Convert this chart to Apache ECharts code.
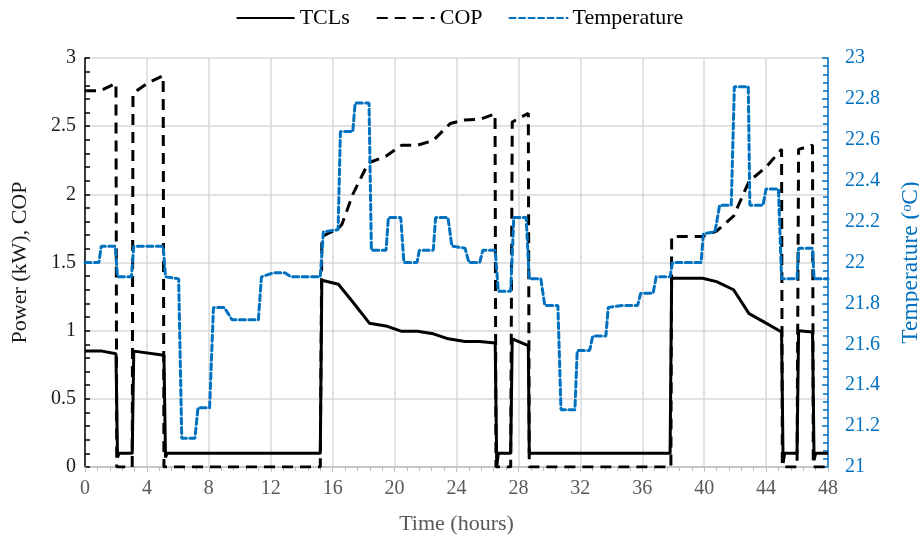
<!DOCTYPE html>
<html>
<head>
<meta charset="utf-8">
<script src="https://cdn.jsdelivr.net/npm/echarts@6/dist/echarts.min.js"></script>
<style>
html,body{margin:0;padding:0;background:#fff;}
#chart{width:919px;height:543px;}
</style>
</head>
<body>
<div id="chart"></div>
<script>
// ---- data ----
const seriesNames = ['TCLs', 'COP', 'Temperature'];

const tclsHours  = [0, 1.1, 2.0, 2.1, 2.2, 3.05, 3.15, 5.1, 5.2, 5.3, 15.2, 15.3, 16.37, 17.3, 18.37, 19.44, 20.46, 21.47, 22.5, 23.47, 24.55, 25.5, 26.5, 26.6, 26.7, 27.5, 27.6, 28.64, 28.7, 37.8, 37.9, 39.9, 40.8, 41.9, 42.9, 44.0, 45.0, 45.1, 45.2, 46.0, 46.1, 47.0, 47.1, 47.2, 48];
const tclsValues = [0.85, 0.85, 0.83, 0.07, 0.1, 0.1, 0.85, 0.82, 0.07, 0.1, 0.1, 1.37, 1.34, 1.21, 1.055, 1.035, 0.995, 0.995, 0.977, 0.94, 0.92, 0.92, 0.91, 0.0, 0.1, 0.1, 0.94, 0.89, 0.1, 0.1, 1.385, 1.385, 1.36, 1.30, 1.125, 1.055, 0.99, 0.03, 0.1, 0.1, 1.0, 0.99, 0.05, 0.1, 0.1];

const copHours  = [0, 1.0, 2.0, 2.05, 3.05, 3.1, 4.1, 5.05, 5.1, 15.2, 15.3, 16.37, 16.6, 17.3, 18.3, 19.44, 20.46, 21.47, 22.5, 23.6, 24.55, 25.5, 26.49, 26.55, 27.5, 27.6, 28.64, 28.7, 37.85, 37.9, 39.9, 40.8, 41.9, 42.9, 44.0, 45.0, 45.05, 46.0, 46.1, 47.0, 47.05, 48];
const copValues = [2.76, 2.76, 2.815, 0, 0, 2.74, 2.82, 2.87, 0, 0, 1.69, 1.75, 1.78, 2.0, 2.23, 2.28, 2.36, 2.36, 2.395, 2.52, 2.545, 2.55, 2.59, 0, 0, 2.53, 2.595, 0, 0, 1.69, 1.69, 1.73, 1.84, 2.095, 2.2, 2.33, 0, 0, 2.33, 2.36, 0, 0];

const tempHours  = [0, 0.9, 1.05, 1.95, 2.1, 3.0, 3.15, 5.05, 5.2, 6.05, 6.25, 7.1, 7.3, 8.05, 8.3, 9.0, 9.5, 11.2, 11.4, 12.2, 12.9, 13.3, 15.2, 15.4, 16.35, 16.5, 17.3, 17.45, 18.35, 18.5, 19.45, 19.6, 20.4, 20.6, 21.45, 21.6, 22.5, 22.65, 23.45, 23.7, 24.55, 24.8, 25.5, 25.7, 26.5, 26.7, 27.5, 27.7, 28.5, 28.7, 29.45, 29.7, 30.55, 30.75, 31.65, 31.8, 32.6, 32.8, 33.65, 33.8, 34.7, 35.7, 35.9, 36.7, 36.9, 37.8, 37.95, 39.8, 39.95, 40.7, 41.0, 41.75, 41.95, 42.85, 42.95, 43.8, 44.0, 44.8, 45.0, 46.0, 46.1, 47.0, 47.1, 48];
const tempValues = [22.0, 22.0, 22.08, 22.08, 21.93, 21.93, 22.08, 22.08, 21.93, 21.92, 21.14, 21.14, 21.29, 21.29, 21.78, 21.78, 21.72, 21.72, 21.93, 21.95, 21.95, 21.93, 21.93, 22.15, 22.16, 22.64, 22.64, 22.78, 22.78, 22.06, 22.06, 22.22, 22.22, 22.0, 22.0, 22.06, 22.06, 22.22, 22.22, 22.08, 22.07, 22.0, 22.0, 22.06, 22.06, 21.86, 21.86, 22.22, 22.22, 21.92, 21.92, 21.79, 21.79, 21.28, 21.28, 21.57, 21.57, 21.64, 21.64, 21.78, 21.79, 21.79, 21.85, 21.85, 21.93, 21.93, 22.0, 22.0, 22.14, 22.15, 22.28, 22.28, 22.86, 22.86, 22.28, 22.28, 22.36, 22.36, 21.92, 21.92, 22.07, 22.07, 21.92, 21.92];

const xAxisRange = {min: 0, max: 48, interval: 4};
const leftAxisRange = {min: 0, max: 3, interval: 0.5};
const rightAxisRange = {min: 21, max: 23, interval: 0.2};

// ---- chart ----
const zip = (xs, ys) => xs.map((x, i) => [x, ys[i]]);
const FONT = '"Liberation Serif", "Times New Roman", serif';
const BLUE = '#0070C0';

const chart = echarts.init(document.getElementById('chart'), null, {renderer: 'canvas'});
chart.setOption({
  backgroundColor: '#ffffff',
  animation: false,
  textStyle: {fontFamily: FONT},
  legend: {
    top: 2,
    left: 'center',
    itemWidth: 58,
    itemHeight: 14,
    itemGap: 26,
    itemStyle: {opacity: 0},
    textStyle: {fontFamily: FONT, fontSize: 22, color: '#000'},
    data: seriesNames
  },
  grid: {left: 85, right: 91, top: 58, bottom: 76, containLabel: false, outerBoundsMode: 'none'},
  xAxis: {
    type: 'value',
    min: xAxisRange.min, max: xAxisRange.max, interval: xAxisRange.interval,
    name: 'Time (hours)',
    nameLocation: 'middle',
    nameGap: 46,
    nameTextStyle: {fontFamily: FONT, fontSize: 22, color: '#595959'},
    axisLine: {show: true, lineStyle: {color: '#bfbfbf', width: 1.5}},
    axisTick: {show: true, inside: false, length: 5, lineStyle: {color: '#bfbfbf'}},
    minorTick: {show: true, splitNumber: 5, length: 4, lineStyle: {color: '#bfbfbf'}},
    axisLabel: {fontFamily: FONT, fontSize: 20, color: '#595959', margin: 12},
    splitLine: {show: true, lineStyle: {color: '#d9d9d9', width: 1.5}}
  },
  yAxis: [
    {
      type: 'value',
      min: leftAxisRange.min, max: leftAxisRange.max, interval: leftAxisRange.interval,
      name: 'Power (kW), COP',
      nameLocation: 'middle',
      nameGap: 54,
      nameTextStyle: {fontFamily: FONT, fontSize: 22, color: '#1a1a1a'},
      axisLine: {show: true, lineStyle: {color: '#000', width: 1.5}},
      axisTick: {show: true, inside: true, length: 5, lineStyle: {color: '#000', width: 1.5}},
      minorTick: {show: true, splitNumber: 5, length: 5, lineStyle: {color: '#000', width: 1.5}},
      axisLabel: {fontFamily: FONT, fontSize: 20, color: '#1a1a1a', margin: 9},
      splitLine: {show: true, lineStyle: {color: '#d9d9d9', width: 1.5}}
    },
    {
      type: 'value',
      min: rightAxisRange.min, max: rightAxisRange.max, interval: rightAxisRange.interval,
      position: 'right',
      name: 'Temperature (ᵒC)',
      nameLocation: 'middle',
      nameGap: 71,
      nameRotate: 90,
      nameTextStyle: {fontFamily: FONT, fontSize: 23.5, color: BLUE},
      axisLine: {show: true, lineStyle: {color: BLUE, width: 1.5}},
      axisTick: {show: true, inside: true, length: 6, lineStyle: {color: BLUE, width: 1.5}},
      minorTick: {show: true, splitNumber: 5, length: 5, lineStyle: {color: BLUE, width: 1.5}},
      axisLabel: {fontFamily: FONT, fontSize: 20, color: BLUE, margin: 17},
      splitLine: {show: false}
    }
  ],
  series: [
    {
      name: seriesNames[0], type: 'line', yAxisIndex: 0,
      data: zip(tclsHours, tclsValues),
      symbol: 'none', showSymbol: false,
      itemStyle: {color: '#000'},
      lineStyle: {color: '#000', width: 3, type: 'solid'},
      z: 3
    },
    {
      name: seriesNames[1], type: 'line', yAxisIndex: 0,
      data: zip(copHours, copValues),
      symbol: 'none', showSymbol: false,
      itemStyle: {color: '#000'},
      lineStyle: {color: '#000', width: 3, type: [11, 7]},
      z: 2
    },
    {
      name: seriesNames[2], type: 'line', yAxisIndex: 1,
      data: zip(tempHours, tempValues),
      symbol: 'none', showSymbol: false,
      itemStyle: {color: BLUE},
      lineStyle: {color: BLUE, width: 3, type: [6, 3.5], cap: 'round'},
      z: 4
    }
  ]
});
</script>
</body>
</html>
